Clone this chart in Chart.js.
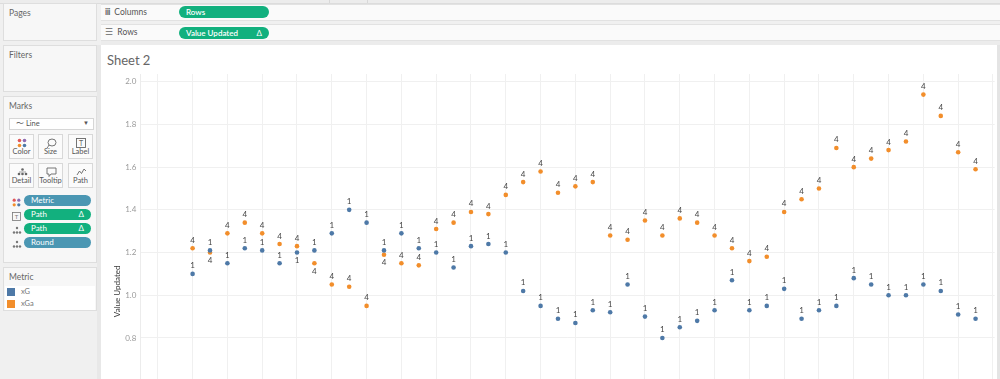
<!DOCTYPE html>
<html>
<head>
<meta charset="utf-8">
<script src="https://cdn.jsdelivr.net/npm/chart.js@4.4.1/dist/chart.umd.min.js"></script>
<style>
  html,body{margin:0;padding:0;}
  body{width:1000px;height:379px;overflow:hidden;background:#f0f0f0;font-family:Lato,"Open Sans",sans-serif;position:relative;color:#555;}
  .abs{position:absolute;}
  .topstrip{left:0;top:0;width:1000px;height:3px;background:#ececec;border-bottom:1px solid #dcdcdc;}
  .shelf{left:101px;width:899px;height:15px;background:#fafafa;border-top:1px solid #e2e2e2;border-bottom:1px solid #e2e2e2;}
  .shelf .lbl{position:absolute;left:4px;top:2px;font-size:8.5px;color:#555;}
  .pill{position:absolute;height:12px;border-radius:7px;color:#fff;font-size:8px;line-height:12px;padding-left:7px;box-sizing:border-box;font-weight:600;}
  .green{background:#12b07e;}
  .blue{background:#4b97b3;}
  .pill .tri{position:absolute;right:7px;top:0;font-weight:400;}
  .card{background:#f7f7f7;border:1px solid #dedede;box-sizing:border-box;}
  .card .ct{position:absolute;left:5px;top:4px;font-size:8.5px;color:#666;}
  .btn{position:absolute;width:25px;height:25px;background:#fbfbfb;border:1px solid #d8d8d8;box-sizing:border-box;font-size:7.5px;color:#555;text-align:center;}
  .btn svg{position:absolute;left:7px;top:3px;}
  .btn span{position:absolute;left:0;width:100%;bottom:2px;}
  #sheet{left:101px;top:45px;width:896px;height:334px;background:#fff;overflow:hidden;}
  #title{position:absolute;left:6px;top:7px;font-size:13px;color:#666;}
  #c{position:absolute;left:0;top:0;}
</style>
</head>
<body>
<div class="abs topstrip"></div>
<div class="abs" style="left:329px;top:0;width:1px;height:3px;background:#d8d8d8"></div>
<div class="abs" style="left:367px;top:0;width:1px;height:3px;background:#d8d8d8"></div>

<div class="abs shelf" style="top:4px">
  <div class="lbl"><span style="letter-spacing:-0.5px;font-weight:700;color:#666">iii</span>&nbsp; Columns</div>
  <div class="pill green" style="left:78px;top:1px;width:90px;">Rows</div>
</div>
<div class="abs shelf" style="top:24px">
  <div class="lbl"><span style="color:#666">&#9776;</span>&nbsp; Rows</div>
  <div class="pill green" style="left:78px;top:1.5px;width:90px;">Value Updated<span class="tri">&#916;</span></div>
</div>
<div class="abs" style="left:101px;top:41px;width:899px;height:4px;background:#ececec;"></div>

<!-- left pane -->
<div class="abs card" style="left:3px;top:3px;width:94px;height:38px"><div class="ct">Pages</div></div>
<div class="abs card" style="left:3px;top:45px;width:94px;height:47px"><div class="ct">Filters</div></div>
<div class="abs card" style="left:3px;top:96px;width:94px;height:167px">
  <div class="ct">Marks</div>
  <div class="abs" style="left:5px;top:21px;width:85px;height:12px;background:#fff;border:1px solid #d6d6d6;box-sizing:border-box;font-size:7.5px;color:#555;">
    <span style="position:absolute;left:6px;top:0px;">&#12316; Line</span>
    <span style="position:absolute;right:4px;top:0px;font-size:6px;">&#9660;</span>
  </div>
  <div class="btn" style="left:5px;top:37px">
    <svg width="10" height="10"><circle cx="2.5" cy="2.5" r="1.8" fill="#e15759"/><circle cx="7.5" cy="2.5" r="1.8" fill="#8e6bb0"/><circle cx="2.5" cy="7.5" r="1.8" fill="#f28e2b"/><circle cx="7.5" cy="7.5" r="1.8" fill="#4e79a7"/></svg><span>Color</span></div>
  <div class="btn" style="left:34px;top:37px">
    <svg width="11" height="11"><ellipse cx="6" cy="4.5" rx="4" ry="3.5" fill="none" stroke="#666" stroke-width="0.9"/><path d="M3 7 Q2 9 1 10" stroke="#666" stroke-width="0.9" fill="none"/></svg><span>Size</span></div>
  <div class="btn" style="left:64px;top:37px">
    <svg width="10" height="10"><rect x="0.5" y="0.5" width="9" height="9" fill="none" stroke="#666" stroke-width="0.9"/><text x="5" y="8" font-size="7" text-anchor="middle" fill="#666">T</text></svg><span>Label</span></div>
  <div class="btn" style="left:5px;top:66px">
    <svg width="11" height="10"><circle cx="5.5" cy="2.5" r="1.3" fill="#666"/><circle cx="2" cy="7" r="1.3" fill="#666"/><circle cx="5.5" cy="7" r="1.3" fill="#666"/><circle cx="9" cy="7" r="1.3" fill="#666"/><path d="M2 5 H9" stroke="#666" stroke-width="0.6"/></svg><span>Detail</span></div>
  <div class="btn" style="left:34px;top:66px">
    <svg width="11" height="11"><path d="M1 1 H10 V7 H5 L3 9.5 V7 H1 Z" fill="none" stroke="#666" stroke-width="0.9"/></svg><span>Tooltip</span></div>
  <div class="btn" style="left:64px;top:66px">
    <svg width="11" height="10"><path d="M1 8 L3.5 4 L5.5 6.5 L8 2 L10 4" fill="none" stroke="#666" stroke-width="0.9"/></svg><span>Path</span></div>

  <svg class="abs" style="left:8px;top:101px" width="9" height="9"><circle cx="2.2" cy="2.2" r="1.6" fill="#e15759"/><circle cx="6.8" cy="2.2" r="1.6" fill="#8e6bb0"/><circle cx="2.2" cy="6.8" r="1.6" fill="#f28e2b"/><circle cx="6.8" cy="6.8" r="1.6" fill="#4e79a7"/></svg>
  <div class="pill blue" style="left:20px;top:98px;width:67px;height:11px;line-height:11px;font-weight:400">Metric</div>
  <svg class="abs" style="left:8px;top:115px" width="9" height="9"><rect x="0.5" y="0.5" width="8" height="8" fill="none" stroke="#777" stroke-width="0.8"/><text x="4.5" y="7.3" font-size="6" text-anchor="middle" fill="#777">T</text></svg>
  <div class="pill green" style="left:20px;top:112px;width:67px;height:11px;line-height:11px;font-weight:400">Path<span class="tri">&#916;</span></div>
  <svg class="abs" style="left:8px;top:129px" width="10" height="9"><circle cx="5" cy="2" r="1.2" fill="#777"/><circle cx="2" cy="6.5" r="1.2" fill="#777"/><circle cx="5" cy="6.5" r="1.2" fill="#777"/><circle cx="8" cy="6.5" r="1.2" fill="#777"/></svg>
  <div class="pill green" style="left:20px;top:126px;width:67px;height:11px;line-height:11px;font-weight:400">Path<span class="tri">&#916;</span></div>
  <svg class="abs" style="left:8px;top:143px" width="10" height="9"><circle cx="5" cy="2" r="1.2" fill="#777"/><circle cx="2" cy="6.5" r="1.2" fill="#777"/><circle cx="5" cy="6.5" r="1.2" fill="#777"/><circle cx="8" cy="6.5" r="1.2" fill="#777"/></svg>
  <div class="pill blue" style="left:20px;top:140px;width:67px;height:11px;line-height:11px;font-weight:400">Round</div>
</div>
<div class="abs card" style="left:3px;top:267px;width:94px;height:44px">
  <div class="ct">Metric</div>
  <div class="abs" style="left:1px;top:18px;width:90px;height:24px;background:#fff;"></div>
  <div class="abs" style="left:3px;top:20px;width:8px;height:8px;background:#4e79a7"></div>
  <div class="abs" style="left:17px;top:19px;font-size:7.5px;color:#777">xG</div>
  <div class="abs" style="left:3px;top:32px;width:8px;height:8px;background:#f28e2b"></div>
  <div class="abs" style="left:17px;top:31px;font-size:7.5px;color:#777">xGa</div>
</div>
<div class="abs" style="left:97px;top:45px;width:4px;height:334px;background:#e8e8e8"></div>
<div class="abs" style="left:997px;top:45px;width:3px;height:334px;background:#e4e4e4"></div>

<div id="sheet" class="abs">
  <div id="title">Sheet 2</div>
  <canvas id="c" width="896" height="466"></canvas>
</div>

<script>
// ---- data ----
const rows = [2,3,4,5,6,7,8,9,10,11,12,13,14,15,16,17,18,19,20,21,22,23,24,25,26,27,28,29,30,31,32,33,34,35,36,37,38,39,40,41,42,43,44,45,46,47];
const seriesNames = ['xG','xGa'];
const pathLabels = ['1','4'];
const xG  = [1.10,1.21,1.15,1.22,1.21,1.15,1.20,1.21,1.29,1.40,1.34,1.21,1.29,1.22,1.20,1.13,1.23,1.24,1.20,1.02,0.95,0.89,0.87,0.93,0.92,1.05,0.90,0.80,0.85,0.88,0.93,1.07,0.93,0.95,1.03,0.89,0.93,0.95,1.08,1.05,1.00,1.00,1.05,1.02,0.91,0.89];
const xGa = [1.22,1.20,1.29,1.34,1.29,1.24,1.23,1.15,1.05,1.04,0.95,1.19,1.15,1.14,1.31,1.34,1.39,1.38,1.47,1.53,1.58,1.48,1.51,1.53,1.28,1.26,1.35,1.28,1.36,1.34,1.28,1.22,1.16,1.18,1.39,1.45,1.50,1.69,1.60,1.64,1.68,1.72,1.94,1.84,1.67,1.59];
const yTicks = [0.8,1.0,1.2,1.4,1.6,1.8,2.0];
const xGridTicks = [0,2,4,6,8,10,12,14,16,18,20,22,24,26,28,30,32,34,36,38,40,42,44,46,48];
const colors = ['#4e79a7','#f28e2b'];

Chart.defaults.font.family = 'Lato, "Open Sans", sans-serif';

const toPts = arr => arr.map((v,i) => ({x: rows[i], y: v}));
const seriesData = [xG, xGa];

const labelPlugin = {
  id: 'pathLabels',
  afterDatasetsDraw(chart) {
    const ctx = chart.ctx;
    ctx.save();
    ctx.font = '8px Lato, "Open Sans", sans-serif';
    ctx.fillStyle = '#444';
    ctx.textAlign = 'center';
    ctx.textBaseline = 'alphabetic';
    for (let d = 0; d < 2; d++) {
      const meta = chart.getDatasetMeta(d);
      const other = seriesData[1 - d];
      meta.data.forEach((pt, i) => {
        const v = seriesData[d][i];
        const below = Math.abs(v - other[i]) < 0.065 && v < other[i];
        const y = below ? pt.y + 10.5 : pt.y - 5.5;
        ctx.fillText(pathLabels[d], pt.x, y);
      });
    }
    ctx.restore();
  }
};

new Chart(document.getElementById('c'), {
  type: 'scatter',
  data: {
    datasets: seriesNames.map((n, d) => ({
      label: n,
      data: toPts(seriesData[d]),
      backgroundColor: colors[d],
      borderWidth: 0,
      pointRadius: 2.3,
      pointHoverRadius: 2.3
    }))
  },
  options: {
    responsive: false,
    devicePixelRatio: 1,
    animation: false,
    layout: { padding: { top: 29, left: 0, right: 0, bottom: 0 } },
    plugins: { legend: { display: false }, tooltip: { enabled: false } },
    scales: {
      x: {
        type: 'linear',
        min: -1,
        max: 48.1,
        afterBuildTicks: s => { s.ticks = xGridTicks.map(v => ({ value: v })); },
        afterFit: s => { s.height = 0; s.paddingLeft = 0; s.paddingRight = 0; s.paddingTop = 0; s.paddingBottom = 0; },
        ticks: { display: false },
        grid: { color: '#f0f0f0', drawTicks: false, lineWidth: 1 },
        border: { display: false }
      },
      y: {
        min: 0,
        max: 2.0364,
        afterBuildTicks: s => { s.ticks = yTicks.map(v => ({ value: v })); },
        afterFit: s => { s.width = 39.4; s.paddingTop = 0; s.paddingBottom = 0; s.paddingLeft = 0; s.paddingRight = 0; },
        ticks: {
          color: '#9a9a9a',
          font: { size: 8 },
          padding: 4,
          callback: v => v.toFixed(1)
        },
        grid: { color: '#f0f0f0', drawTicks: false, lineWidth: 1 },
        border: { display: true, color: '#ececec' },
        title: {
          display: true,
          text: 'Value Updated',
          color: '#3a3a3a',
          font: { size: 8 },
          padding: { top: 11.2, bottom: 0 }
        }
      }
    }
  },
  plugins: [labelPlugin]
});
</script>
</body>
</html>
